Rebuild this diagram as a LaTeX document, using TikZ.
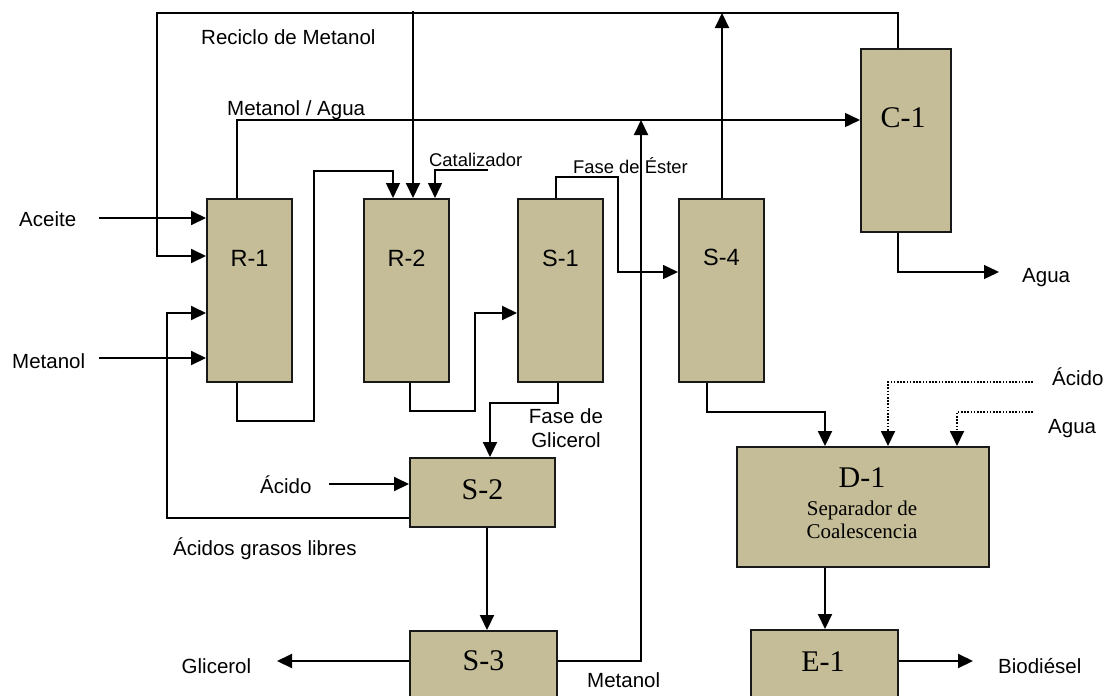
\documentclass[tikz,border=0pt]{standalone}
\usepackage{fontspec}
\setmainfont{Liberation Serif}
\setsansfont{Liberation Sans}
\usetikzlibrary{arrows.meta}
\definecolor{boxfill}{RGB}{196,189,151}
\definecolor{boxline}{RGB}{25,25,25}
\begin{document}
\begin{tikzpicture}[x=1pt,y=-1pt,
  box/.style={draw=boxline, line width=2pt, fill=boxfill, inner sep=0pt},
  col/.style={box, minimum width=85pt, minimum height=183pt},
  arr/.style={line width=2pt, -{Triangle[length=15pt,width=14pt]}},
  tarr/.style={line width=1.4pt, -{Triangle[length=15pt,width=14pt]}},
  dotl/.style={line width=1.8pt, dash pattern=on 1.6pt off 1.6pt, -{Triangle[length=15pt,width=14pt]}},
  lab/.style={font=\fontsize{20.5}{24}\selectfont\sffamily, inner sep=0pt, anchor=base west},
  labs/.style={font=\fontsize{18.4}{22}\selectfont\sffamily, inner sep=0pt, anchor=base west},
  bsans/.style={font=\fontsize{23.5}{28}\selectfont\sffamily, inner sep=0pt, anchor=base},
  bser/.style={font=\fontsize{30}{34}\selectfont, inner sep=0pt, anchor=base},
  bsub/.style={font=\fontsize{21}{23.5}\selectfont, inner sep=0pt, anchor=base}]
\useasboundingbox (0,0) rectangle (1106,696);
\clip (0,0) rectangle (1106,696);

% equipment
\node[col] (R1) at (249.5,290.5) {};
\node[col] (R2) at (406.5,290.5) {};
\node[col] (S1) at (560.5,290.5) {};
\node[col] (S4) at (721.5,290.5) {};
\node[box, minimum width=90pt, minimum height=183pt] (C1) at (906,140.5) {};
\node[box, minimum width=145pt, minimum height=69pt] (S2) at (482.5,492.5) {};
\node[box, minimum width=147pt, minimum height=80pt] (S3) at (483.5,671) {};
\node[box, minimum width=252pt, minimum height=120pt] (D1) at (863,507) {};
\node[box, minimum width=147pt, minimum height=80pt] (E1) at (824.5,670) {};

% equipment labels
\node[bsans] (tR1) at (249.5,266) {R-1};
\node[bsans] (tR2) at (406.5,266) {R-2};
\node[bsans] (tS1) at (560.5,266) {S-1};
\node[bsans] (tS4) at (721.5,265) {S-4};
\node[bser] (tC1) at (903,127) {C-1};
\node[bser] (tS2) at (482.5,499) {S-2};
\node[bser] (tS3) at (483.5,670) {S-3};
\node[bser] (tD1) at (862,487) {D-1};
\node[bsub] (tD1a) at (862,515) {Separador de};
\node[bsub] (tD1b) at (862,538) {Coalescencia};
\node[bser] (tE1) at (823,671) {E-1};

% stream labels
\node[lab] (lAceite) at (19,226) {Aceite};
\node[lab] (lMet) at (12,368) {Metanol};
\node[lab] (lRec) at (201,44) {Reciclo de Metanol};
\node[lab] (lMA) at (227,115) {Metanol / Agua};
\node[labs] (lCat) at (429,166) {Catalizador};
\node[labs] (lFE) at (573,173) {Fase de Éster};
\node[lab, anchor=base] (lFG1) at (566,423) {Fase de};
\node[lab, anchor=base] (lFG2) at (566,447) {Glicerol};
\node[lab] (lAc) at (260,493) {Ácido};
\node[lab] (lAGL) at (173,555) {Ácidos grasos libres};
\node[lab] (lGli) at (181.5,673) {Glicerol};
\node[lab] (lMet2) at (587,687) {Metanol};
\node[lab] (lAgua1) at (1022,282) {Agua};
\node[lab] (lAc2) at (1052,385) {Ácido};
\node[lab] (lAgua2) at (1048,433) {Agua};
\node[lab] (lBio) at (998,673) {Biodiésel};

% waypoints
\coordinate (tl) at (157,13);
\coordinate (tr) at (898,13);
\coordinate (yrec) at (0,256);
\coordinate (aceS) at (99,218);
\coordinate (metS) at (99,358);
\coordinate (agl) at (167,518);
\coordinate (aglT) at (167,313);
\coordinate (mw) at (237,120);
\coordinate (rd) at (413,11);
\coordinate (a1) at (237,421);
\coordinate (a2) at (314,421);
\coordinate (a3) at (314,171);
\coordinate (a4) at (393,171);
\coordinate (catS) at (488,170);
\coordinate (catC) at (435,170);
\coordinate (b1) at (410,411);
\coordinate (b2) at (475,411);
\coordinate (b3) at (475,313);
\coordinate (c1) at (556,177);
\coordinate (c2) at (618,177);
\coordinate (c3) at (618,272);
\coordinate (g1) at (558,403);
\coordinate (g2) at (490,403);
\coordinate (sx) at (487,0);
\coordinate (acidS) at (329,484);
\coordinate (glE) at (277,661);
\coordinate (m1) at (641,661);
\coordinate (m2) at (641,120);
\coordinate (s4u) at (722,13);
\coordinate (d1) at (707,412);
\coordinate (d2) at (825,412);
\coordinate (acS) at (1033,382);
\coordinate (acC) at (888,382);
\coordinate (agS) at (1033,412);
\coordinate (agC) at (957,412);
\coordinate (bioE) at (973,661);
\coordinate (w1) at (898,272);
\coordinate (w2) at (999,272);

% recycle loop
\draw[arr] (tr |- C1.north) -- (tr) -- (tl) |- (R1.west |- yrec);
\draw[arr] (rd) -- (rd |- R2.north);
% feeds
\draw[arr] (aceS) -- (R1.west |- aceS);
\draw[arr] (metS) -- (R1.west |- metS);
% free fatty acids return
\draw[arr] (S2.west |- agl) -- (agl) -- (aglT) -- (R1.west |- aglT);
% methanol / water to C-1
\draw[tarr] (mw |- R1.north) -- (mw) -- (C1.west |- mw);
% R-1 to R-2
\draw[tarr] (a1 |- R1.south) -- (a1) -- (a2) -- (a3) -- (a4) -- (a4 |- R2.north);
% catalyst
\draw[tarr] (catS) -- (catC) -- (catC |- R2.north);
% R-2 to S-1
\draw[arr] (b1 |- R2.south) -- (b1) -- (b2) -- (b3) -- (S1.west |- b3);
% S-1 ester phase to S-4
\draw[tarr] (c1 |- S1.north) -- (c1) -- (c2) -- (c3) -- (S4.west |- c3);
% S-1 glycerol phase to S-2
\draw[arr] (g1 |- S1.south) -- (g1) -- (g2) -- (g2 |- S2.north);
% acid to S-2
\draw[arr] (acidS) -- (S2.west |- acidS);
% S-2 to S-3
\draw[arr] (sx |- S2.south) -- (sx |- S3.north);
% S-3 outputs
\draw[arr] (S3.west |- glE) -- (glE);
\draw[arr] (S3.east |- m1) -- (m1) -- (m2);
% S-4 to top
\draw[arr] (s4u |- S4.north) -- (s4u);
% S-4 to D-1
\draw[arr] (d1 |- S4.south) -- (d1) -- (d2) -- (d2 |- D1.north);
% dotted feeds
\draw[dotl] (acS) -- (acC) -- (acC |- D1.north);
\draw[dotl] (agS) -- (agC) -- (agC |- D1.north);
% D-1 to E-1
\draw[arr] (d2 |- D1.south) -- (d2 |- E1.north);
\draw[arr] (E1.east |- bioE) -- (bioE);
% C-1 water out
\draw[tarr] (w1 |- C1.south) -- (w1) -- (w2);
\end{tikzpicture}
\end{document}
